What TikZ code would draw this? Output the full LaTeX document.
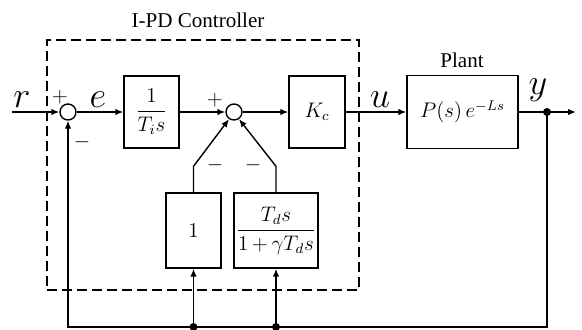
\documentclass[tikz,border=0pt]{standalone}
\usepackage{amsmath}
\usepackage{fontspec}
\setmainfont{Liberation Serif}
\usetikzlibrary{arrows.meta}

\begin{document}
\begin{tikzpicture}[
  x=0.02cm, y=-0.02cm, line width=0.8pt,
  block/.style={draw, align=center, inner sep=1pt, font=\large},
  sumpt/.style={draw, circle, minimum size=0.32cm, inner sep=0pt},
  sig/.style={font=\huge, inner sep=1pt},
  sgn/.style={font=\large, inner sep=0pt},
  ttl/.style={font=\large},
  ctrl/.style={draw, dash pattern=on 2mm off 1mm},
  arr/.style={-{Latex[length=1.6mm, width=1.3mm]}},
  tapdot/.style={circle, fill, inner sep=0pt, minimum size=1.6mm},
]
\useasboundingbox (0,0) rectangle (582,329);

% controller box
\node[ctrl, minimum width=6.24cm, minimum height=5cm] (pidbox) at (203,165) {};
\node[ttl] (ctitle) at (198,20) {I-PD Controller};
\node[ttl] (ptitle) at (462,60) {Plant};

\node[sumpt] (sum1) at (68,112) {};
\node[block, minimum width=1.1cm, minimum height=1.44cm] (integ) at (151.5,112) {$\dfrac{1}{T_i s}$};
\node[sumpt] (sum2) at (234,112) {};
\node[block, minimum width=1.12cm, minimum height=1.44cm] (gain) at (317,112) {$K_c$};
\node[block, minimum width=2.22cm, minimum height=1.46cm] (plant) at (462.5,112) {$P(s)\,e^{-Ls}$};
\node[block, minimum width=1.1cm, minimum height=1.5cm] (prop) at (193.5,230.5) {$1$};
\node[block, minimum width=1.68cm, minimum height=1.5cm] (deriv) at (276,230.5) {$\dfrac{T_d s}{1\,{+}\,\gamma T_d s}$};

% signal names and signs
\node[sig] (lr) at (22,100) {$r$};
\node[sig] (le) at (98,100) {$e$};
\node[sig] (lu) at (380,100) {$u$};
\node[sig] (ly) at (538,90) {$y$};
\node[sgn] (p1) at (60,97) {$+$};
\node[sgn] (m1) at (82,142) {$-$};
\node[sgn] (p2) at (215,100) {$+$};
\node[sgn] (m2) at (215,165) {$-$};
\node[sgn] (m3) at (253,165) {$-$};

\coordinate (rin) at (12,112);
\coordinate (ytap) at (547,112);
\coordinate (yout) at (576,112);
\coordinate (fbl) at (68,327);
\coordinate (tapp) at (prop.south|-fbl);
\coordinate (tapd) at (deriv.south|-fbl);

% forward path
\draw[arr] (rin) -- (sum1);
\draw[arr] (sum1) -- (integ);
\draw[arr] (integ) -- (sum2);
\draw[arr] (sum2) -- (gain);
\draw[arr] (gain) -- (plant);
\draw[arr] (plant) -- (yout);

% feedback
\draw[arr] (ytap) |- (fbl) -- (sum1.south);
\draw[arr] (tapp) -- (prop.south);
\draw[arr] (tapd) -- (deriv.south);
\draw[arr] (prop.north) -- ++(0,-26) -- (sum2.235);
\draw[arr] (deriv.north) -- ++(0,-26) -- (sum2.305);
\node[tapdot] (ydot) at (ytap) {};
\node[tapdot] (pdot) at (tapp) {};
\node[tapdot] (ddot) at (tapd) {};
\end{tikzpicture}
\end{document}
